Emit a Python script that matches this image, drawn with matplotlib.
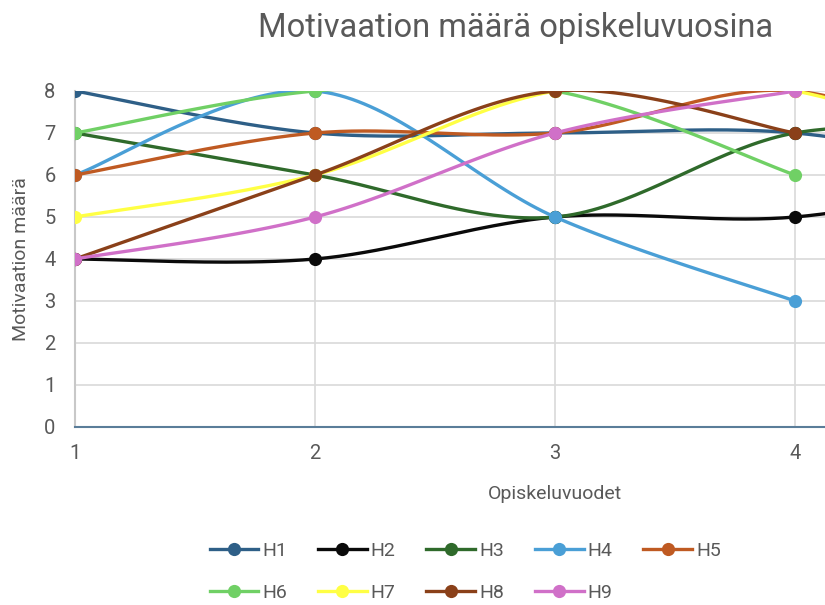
import numpy as np
import matplotlib
matplotlib.use("Agg")
import matplotlib.pyplot as plt
import matplotlib.lines as mlines

plt.rcParams['font.family'] = ['Roboto', 'DejaVu Sans']

# data: study year -> motivation score per respondent
years = [1, 2, 3, 4, 5]
xtick_labels = ['1', '2', '3', '4']
H1 = [8, 7, 7, 7, 6]
H2 = [4, 4, 5, 5, 6]
H3 = [7, 6, 5, 7, 7]
H4 = [6, 8, 5, 3]
H5 = [6, 7, 7, 8, 6]
H6 = [7, 8, 8, 6]
H7 = [5, 6, 8, 8, 6]
H8 = [4, 6, 8, 7]
H9 = [4, 5, 7, 8]

names = ['H1', 'H2', 'H3', 'H4', 'H5', 'H6', 'H7', 'H8', 'H9']
series = [H1, H2, H3, H4, H5, H6, H7, H8, H9]
colors = ['#2E5F87', '#0A0A0A', '#2F6A2B', '#4A9FD6', '#BF5A22',
          '#70D065', '#FFFF44', '#8A4019', '#D070C8']


def smooth(xs, ys, n=40):
    # excel-like smoothed line (bezier, 1/6 tangents)
    xs = np.asarray(xs, float)
    ys = np.asarray(ys, float)
    px, py = [], []
    m = len(xs)
    for i in range(m - 1):
        i0 = max(i - 1, 0)
        i3 = min(i + 2, m - 1)
        x0, y0 = xs[i], ys[i]
        x3, y3 = xs[i + 1], ys[i + 1]
        x1 = x0 + (xs[i + 1] - xs[i0]) / 6
        y1 = y0 + (ys[i + 1] - ys[i0]) / 6
        x2 = x3 - (xs[i3] - xs[i]) / 6
        y2 = y3 - (ys[i3] - ys[i]) / 6
        t = np.linspace(0, 1, n)
        a, b, c, d = (1 - t) ** 3, 3 * (1 - t) ** 2 * t, 3 * (1 - t) * t ** 2, t ** 3
        px.append(a * x0 + b * x1 + c * x2 + d * x3)
        py.append(a * y0 + b * y1 + c * y2 + d * y3)
    return np.concatenate(px), np.concatenate(py)


fig = plt.figure(figsize=(8.25, 6.05), dpi=100)
W, H = 825, 605
# axes runs past the right edge, like the cropped original
ax = fig.add_axes([75 / W, (H - 427) / H, 960 / W, 336 / H])

handles = []
for k, (nm, ys, col) in enumerate(zip(names, series, colors)):
    xs = years[:len(ys)]
    sx, sy = smooth(xs, ys)
    ax.plot(sx, sy, color=col, lw=2.4, zorder=3 + k, solid_capstyle='round')
    ax.plot(xs, ys, 'o', color=col, ms=9.5, zorder=3 + k, markeredgewidth=0)
    handles.append(mlines.Line2D([], [], color=col, lw=2.4, marker='o', ms=9.5,
                                 markeredgewidth=0, label=nm))

ax.set_xlim(1, 5)
ax.set_ylim(0, 8)
ax.set_xticks(years[:4])
ax.set_xticklabels(xtick_labels)
ax.set_yticks(range(0, 9))
ax.grid(True, color='#D9D9D9', lw=1.2, zorder=0)
ax.set_axisbelow(True)
for s in ['top', 'right']:
    ax.spines[s].set_visible(False)
ax.spines['left'].set_color('#C8C8C8')
ax.spines['left'].set_linewidth(1.5)
ax.spines['bottom'].set_color('#5A7D99')
ax.spines['bottom'].set_linewidth(1.5)
ax.tick_params(length=0, labelsize=14.5, colors='#595959', pad=12)
ax.tick_params(axis='y', pad=14)
ax.set_xlabel('Opiskeluvuodet', fontsize=14, color='#595959', labelpad=16)
ax.set_ylabel('Motivaation määrä', fontsize=14, color='#595959', labelpad=10)

fig.text(516 / W, 1 - 28 / H, 'Motivaation määrä opiskeluvuosina', fontsize=23.5,
         color='#595959', ha='center', va='center')

# legend is filled column by column, reorder so rows read H1..H5 / H6..H9
order = [0, 5, 1, 6, 2, 7, 3, 8, 4]
fig.legend(handles=[handles[i] for i in order], loc='center left',
           bbox_to_anchor=(192 / W, 1 - 572 / H),
           ncol=5, frameon=False, fontsize=14, handlelength=2.5, handletextpad=0.2,
           columnspacing=1.6, labelspacing=1.25, labelcolor='#595959')

fig.savefig('out.png', dpi=100)
